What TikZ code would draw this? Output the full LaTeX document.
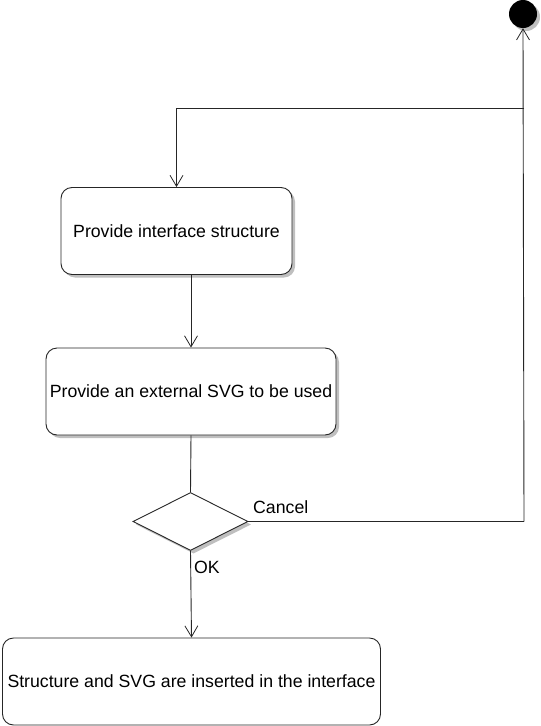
\documentclass[tikz,border=0pt]{standalone}
\usepackage{fontspec}
\setmainfont{Liberation Sans}
\usetikzlibrary{arrows.meta,shapes.geometric,calc}
\tikzset{
  every picture/.style={x=1pt,y=-1pt},
  conn/.style={draw=black!85,line width=0.9pt},
  arr/.style={conn,-{Straight Barb[length=11pt,width=13pt,line width=0.8pt]}},
  actbox/.style={draw=black!85,line width=0.9pt,rounded corners=11pt,fill=white,
    minimum height=87pt,inner sep=0pt,font=\fontsize{17.7}{20}\selectfont},
  shadowbox/.style={fill=black!25,rounded corners=11pt,minimum height=87pt,inner sep=0pt},
  decision/.style={draw=black!85,line width=0.9pt,diamond,aspect=2,fill=white,
    minimum width=115pt,minimum height=58pt,inner sep=0pt},
  lbl/.style={font=\fontsize{17.7}{20}\selectfont,inner sep=0pt}
}
\begin{document}
\begin{tikzpicture}
\useasboundingbox (0,0) rectangle (541,726);
% shadows
\node[shadowbox,minimum width=231pt] at (179.5,234) {};
\node[shadowbox,minimum width=290pt] at (194,394.5) {};
\node[fill=black!25,diamond,aspect=2,minimum width=115pt,minimum height=58pt,inner sep=0pt] at (193.5,524.5) {};
\fill[black!25] (526,17) circle (14);
% nodes
\node[fill=black,circle,minimum size=28pt,inner sep=0pt] (start) at (523,14) {};
\node[actbox,minimum width=231pt] (b1) at (176.5,231) {Provide interface structure};
\node[actbox,minimum width=290pt] (b2) at (191,391.5) {Provide an external SVG to be used};
\node[decision] (d) at (190.5,521.5) {};
\node[actbox,minimum width=378pt] (b3) at (191.5,681.5) {Structure and SVG are inserted in the interface};
\coordinate (c1) at (524,521.5);
\coordinate (j) at (524,108);
\coordinate (k) at (176.5,108);
% connectors
\draw[conn] (d.east) -- (c1);
\draw[arr] (c1) -- (start.south);
\draw[arr] (j) -- (k) -- (b1.north);
\draw[arr] (b2.north |- b1.south) -- (b2.north);
\draw[conn] (b2.south) -- (d.north);
\draw[arr] (d.south) -- (b3.north);
% labels
\node[lbl,anchor=west] at (253,507) {Cancel};
\node[lbl,anchor=west] at (194,567) {OK};
\end{tikzpicture}
\end{document}
